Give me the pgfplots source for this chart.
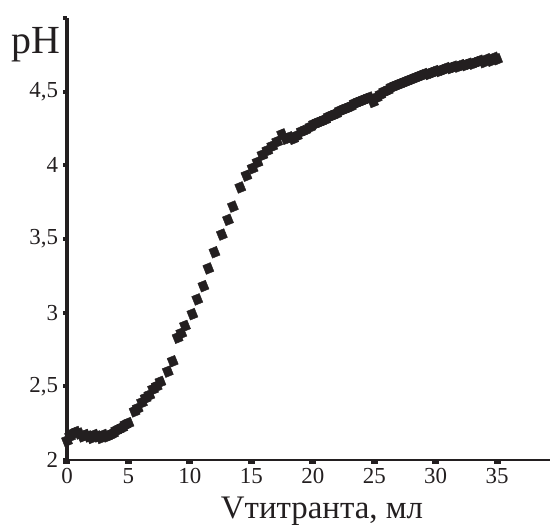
\documentclass[border=0pt]{standalone}
\usepackage{fontspec}
\setmainfont{Liberation Serif}
\usepackage{pgfplots}
\pgfplotsset{compat=1.18}
\definecolor{dk}{RGB}{35,31,32}
\begin{document}
\begin{tikzpicture}
\useasboundingbox (-67bp,-67bp) rectangle (486bp,460bp);
\begin{axis}[
  at={(0,0)}, anchor=south west,
  scale only axis, width=483bp, height=442bp,
  xmin=0, xmax=39.3, ymin=2, ymax=5,
  axis x line=bottom, axis y line=left,
  x axis line style={-, line width=2bp, color=dk},
  y axis line style={-, line width=3.6bp, color=dk},
  xtick={0,5,10,15,20,25,30,35},
  ytick={2,2.5,3,3.5,4,4.5,5},
  yticklabels={2,{2,5},3,{3,5},4,{4,5},},
  tick align=outside,
  xtick style={line width=7bp, color=dk},
  ytick style={line width=4bp, color=dk},
  major tick length=3.5bp,
  minor tick num=0,
  ticklabel style={font=\fontsize{23}{25}\selectfont, text=dk},
  /pgf/number format/assume math mode=true,
  xticklabel style={yshift=-1bp},
  yticklabel style={xshift=-2bp},
  xlabel={Vтитранта, мл},
  xlabel style={font=\fontsize{33}{36}\selectfont, text=dk, at={(axis description cs:0.528,0)}, anchor=base, yshift=-58bp},
  ylabel={pH},
  ylabel style={font=\fontsize{40}{44}\selectfont, text=dk, rotate=-90, at={(axis description cs:0,0.939)}, anchor=east, xshift=-3bp},
  clip=false,
]
\addplot[only marks, mark=square*, mark size=4.1bp, color=dk, mark options={rotate=22, yscale=1.15, fill=dk, draw=dk}] coordinates {
(0,2.13) (0.25,2.16) (0.5,2.18) (0.75,2.19) (1.0,2.18) (1.25,2.16) (1.5,2.17) (1.75,2.16)
(2.0,2.15) (2.25,2.17) (2.5,2.16) (2.75,2.15) (3.0,2.17) (3.25,2.16) (3.5,2.17) (3.75,2.18)
(4.0,2.20) (4.25,2.21) (4.5,2.22) (4.75,2.24) (5.0,2.25) (5.5,2.33) (5.75,2.35) (6.1,2.39)
(6.4,2.42) (6.7,2.44) (7.0,2.48) (7.3,2.50) (7.6,2.53) (8.2,2.60) (8.6,2.67) (9.0,2.83)
(9.3,2.86) (9.6,2.91) (10.2,2.99) (10.6,3.09) (11.1,3.18) (11.5,3.30) (12.0,3.41) (12.6,3.53)
(13.1,3.63) (13.5,3.72) (14.1,3.85) (14.6,3.93) (15.1,3.98) (15.5,4.02) (15.9,4.07) (16.3,4.10)
(16.7,4.13) (17.1,4.16) (17.5,4.21) (17.8,4.18) (18.1,4.19) (18.4,4.18) (18.7,4.20) (19.1,4.23)
(19.4,4.24) (19.8,4.26) (20.1,4.28) (20.4,4.29) (20.7,4.30) (21.0,4.31) (21.3,4.33) (21.6,4.34)
(21.9,4.35) (22.2,4.37) (22.5,4.38) (22.8,4.39) (23.1,4.40) (23.4,4.42) (23.7,4.43) (24.0,4.44)
(24.3,4.45) (24.6,4.46) (24.9,4.43) (25.2,4.46) (25.5,4.48) (25.8,4.50) (26.1,4.51) (26.4,4.53)
(26.7,4.54) (27.0,4.55) (27.3,4.56) (27.6,4.57) (27.9,4.58) (28.2,4.59) (28.5,4.60) (28.8,4.61)
(29.1,4.62) (29.4,4.62) (29.7,4.63) (30.0,4.64) (30.3,4.64) (30.6,4.65) (30.9,4.66) (31.2,4.66)
(31.5,4.67) (31.8,4.67) (32.1,4.68) (32.4,4.68) (32.7,4.69) (33.0,4.69) (33.3,4.70) (33.6,4.71)
(33.9,4.70) (34.2,4.72) (34.5,4.71) (34.8,4.73) (35.0,4.72)
};
\end{axis}
\end{tikzpicture}
\end{document}
